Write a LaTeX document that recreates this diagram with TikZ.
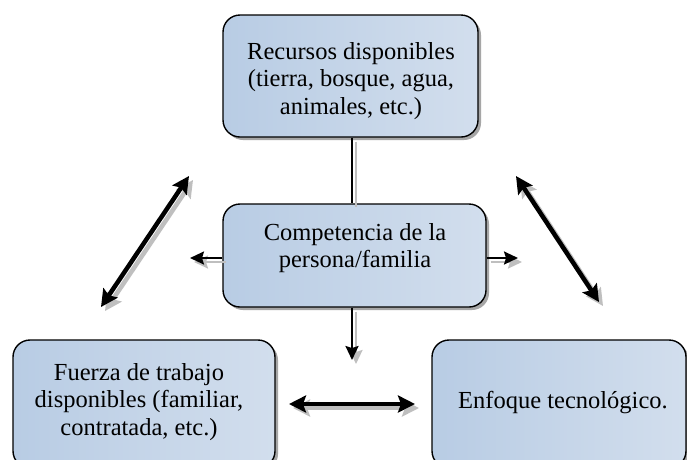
\documentclass[tikz,border=0pt]{standalone}
\usepackage{fontspec}
\setmainfont{Liberation Serif}
\usetikzlibrary{arrows.meta,shadows,calc}
\definecolor{boxL}{HTML}{B8CCE4}
\definecolor{boxR}{HTML}{D2DEED}
\begin{document}
\begin{tikzpicture}[x=1pt,y=-1pt,
  box/.style={draw=black, line width=1.4pt, rounded corners=17pt, left color=boxL, right color=boxR,
    inner sep=0pt, drop shadow={shadow xshift=3pt, shadow yshift=-3pt, fill=black!35, opacity=1}},
  txt/.style={align=center, font=\fontsize{24.5}{27.5}\selectfont, inner sep=0pt},
  thin/.style={line width=1.4pt, draw=black},
  arr/.style={line width=2.2pt, draw=black, -{Stealth[length=14pt,width=13pt,inset=2pt]}},
  dbl/.style={line width=4.5pt, draw=black, {Stealth[length=17pt,width=17pt,inset=3pt]}-{Stealth[length=17pt,width=17pt,inset=3pt]}},
  shd/.style={draw=black!25, transform canvas={xshift=4pt,yshift=-4pt}}
]
\clip (0,0) rectangle (687,459);
\fill[white] (0,0) rectangle (687,459);

% boxes
\node[box, minimum width=255pt, minimum height=122pt] (top) at (350.5,76) {};
\node[box, minimum width=263pt, minimum height=103pt] (mid) at (354.5,255.5) {};
\node[box, minimum width=262pt, minimum height=128pt] (bl) at (144,404) {};
\node[box, minimum width=254pt, minimum height=128pt] (br) at (559,404) {};

\node[txt] (ttop) at (351,81) {Recursos disponibles\\(tierra, bosque, agua,\\animales, etc.)};
\node[txt] (tmid) at (355,248) {Competencia de la\\persona/familia};
\node[txt] (tbl) at (139,402) {Fuerza de trabajo\\disponibles (familiar,\\contratada, etc.)};
\node[txt] (tbr) at (563,403) {Enfoque tecnológico.};

% free ends
\coordinate (md) at (352,360);
\coordinate (ml) at (190,258);
\coordinate (mr) at (518,258);
\coordinate (h1) at (289,404);
\coordinate (h2) at (415,404);
\coordinate (l1) at (101,307);
\coordinate (l2) at (189,176);
\coordinate (r1) at (516,176);
\coordinate (r2) at (599,302);

% shadows of connectors
\draw[thin, shd] (top.south -| md) -- (mid.north -| md);
\draw[arr, shd] (mid.south -| md) -- (md);
\draw[arr, shd] (mid.west |- ml) -- (ml);
\draw[arr, shd] (mid.east |- mr) -- (mr);
\draw[dbl, shd] (h1) -- (h2);
\draw[dbl, shd] (l1) -- (l2);
\draw[dbl, shd] (r1) -- (r2);

% connectors
\draw[thin] (top.south -| md) -- (mid.north -| md);
\draw[arr] (mid.south -| md) -- (md);
\draw[arr] (mid.west |- ml) -- (ml);
\draw[arr] (mid.east |- mr) -- (mr);
\draw[dbl] (h1) -- (h2);
\draw[dbl] (l1) -- (l2);
\draw[dbl] (r1) -- (r2);
\end{tikzpicture}
\end{document}
